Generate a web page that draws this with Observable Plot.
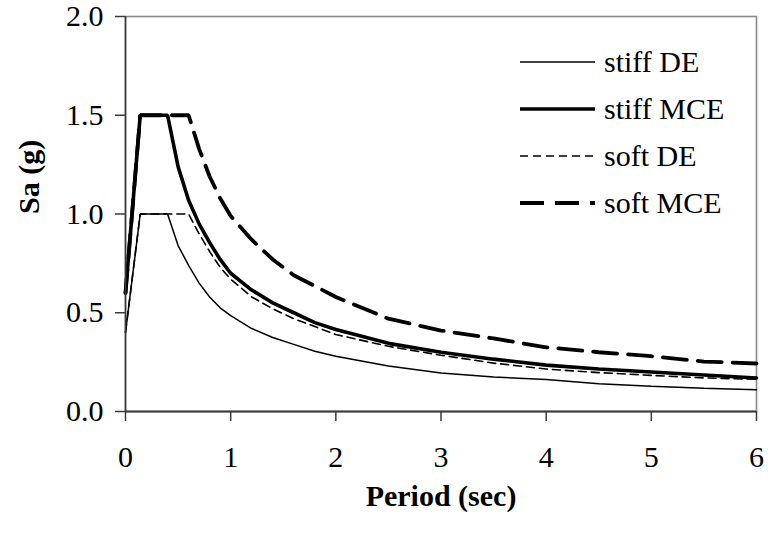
<!DOCTYPE html>
<html>
<head>
<meta charset="utf-8">
<script src="https://cdn.jsdelivr.net/npm/d3@7"></script>
<script src="https://cdn.jsdelivr.net/npm/@observablehq/plot@0.6"></script>
<style>
  html, body { margin: 0; padding: 0; background: #fff; }
  #wrap { position: relative; width: 768px; height: 538px; }
</style>
</head>
<body>
<div id="wrap"></div>
<script>
// ---- data ----
const periodStiff = [0, 0.14, 0.4, 0.5, 0.6, 0.7, 0.8, 0.9, 1.0, 1.2, 1.4, 1.6, 1.8, 2.0, 2.5, 3.0, 3.5, 4.0, 4.5, 5.0, 5.5, 6.0];
const stiffDE  = [0.40, 1.00, 1.00, 0.84, 0.74, 0.65, 0.58, 0.525, 0.485, 0.42, 0.375, 0.34, 0.305, 0.28, 0.23, 0.195, 0.175, 0.162, 0.14, 0.128, 0.118, 0.11];
const stiffMCE = [0.60, 1.50, 1.50, 1.24, 1.07, 0.95, 0.855, 0.77, 0.70, 0.615, 0.55, 0.50, 0.45, 0.415, 0.345, 0.30, 0.265, 0.235, 0.215, 0.20, 0.185, 0.17];
const periodSoft = [0, 0.14, 0.6, 0.7, 0.8, 0.9, 1.0, 1.2, 1.4, 1.6, 1.8, 2.0, 2.5, 3.0, 3.5, 4.0, 4.5, 5.0, 5.5, 6.0];
const softDE  = [0.40, 1.00, 1.00, 0.90, 0.81, 0.73, 0.67, 0.58, 0.52, 0.47, 0.43, 0.39, 0.33, 0.285, 0.245, 0.215, 0.197, 0.183, 0.17, 0.163];
const softMCE = [0.60, 1.50, 1.50, 1.33, 1.19, 1.08, 0.99, 0.87, 0.77, 0.69, 0.635, 0.58, 0.47, 0.41, 0.37, 0.325, 0.30, 0.28, 0.253, 0.243];

const seriesNames = ["stiff DE", "stiff MCE", "soft DE", "soft MCE"];
const xTicks = [0, 1, 2, 3, 4, 5, 6];
const yTicks = [0, 0.5, 1.0, 1.5, 2.0];
const xTitle = "Period (sec)";
const yTitle = "Sa (g)";

// ---- styles ----
const styles = {
  "stiff DE":  {strokeWidth: 1.5, dash: null},
  "stiff MCE": {strokeWidth: 3.6, dash: null},
  "soft DE":   {strokeWidth: 1.6, dash: "8,5"},
  "soft MCE":  {strokeWidth: 3.8, dash: "24,11"}
};

const seriesData = {
  "stiff DE":  periodStiff.map((t, i) => ({T: t, Sa: stiffDE[i]})),
  "stiff MCE": periodStiff.map((t, i) => ({T: t, Sa: stiffMCE[i]})),
  "soft DE":   periodSoft.map((t, i) => ({T: t, Sa: softDE[i]})),
  "soft MCE":  periodSoft.map((t, i) => ({T: t, Sa: softMCE[i]}))
};

const font = "'Liberation Serif', 'Times New Roman', serif";
const axisColor = "#3a3a3a";

const chart = Plot.plot({
  width: 768,
  height: 538,
  marginLeft: 125,
  marginRight: 12,
  marginTop: 16,
  marginBottom: 127,
  style: {fontFamily: font, fontSize: "30px", color: "#000", background: "#fff"},
  x: {domain: [0, 6]},
  y: {domain: [0, 2]},
  marks: [
    Plot.frame({stroke: "#8a8a8a", strokeWidth: 1.6}),
    ...seriesNames.map(name => Plot.line(seriesData[name], {
      x: "T", y: "Sa", stroke: "#000",
      strokeWidth: styles[name].strokeWidth,
      strokeDasharray: styles[name].dash,
      strokeLinejoin: "miter"
    })),
    Plot.ruleY([0], {stroke: axisColor, strokeWidth: 2}),
    Plot.ruleX([0], {stroke: axisColor, strokeWidth: 1.6}),
    Plot.axisX({ticks: xTicks, tickFormat: d => String(d), tickSize: 10, tickPadding: 24,
      stroke: axisColor, strokeWidth: 1.5, fill: "#000", fontSize: 30, label: null}),
    Plot.axisY({ticks: yTicks, tickFormat: d => d.toFixed(1), tickSize: 10, tickPadding: 12,
      stroke: axisColor, strokeWidth: 1.5, fill: "#000", fontSize: 30, label: null}),
    Plot.text([xTitle], {text: d => d, frameAnchor: "bottom", dy: 94,
      fontWeight: "bold", fontSize: 30, fill: "#000"}),
    Plot.text([yTitle], {text: d => d, frameAnchor: "left", dx: -96, rotate: -90,
      fontWeight: "bold", fontSize: 30, fill: "#000"})
  ]
});

const wrap = document.getElementById("wrap");
wrap.appendChild(chart);

// ---- legend (inside plot area, top right) ----
const legend = d3.select(wrap).append("svg")
  .attr("width", 768).attr("height", 538)
  .style("position", "absolute").style("left", "0px").style("top", "0px")
  .style("pointer-events", "none");

const legX0 = 520, legX1 = 595, legTextX = 604, legY0 = 62, legRow = 47;
const rows = legend.selectAll("g").data(seriesNames).join("g")
  .attr("transform", (d, i) => `translate(0,${legY0 + i * legRow})`);
rows.append("line")
  .attr("x1", legX0).attr("x2", legX1).attr("y1", 0).attr("y2", 0)
  .attr("stroke", "#000")
  .attr("stroke-width", d => styles[d].strokeWidth)
  .attr("stroke-dasharray", d => styles[d].dash);
rows.append("text")
  .attr("x", legTextX).attr("y", 0).attr("dy", "0.33em")
  .attr("font-family", font).attr("font-size", 30).attr("fill", "#000")
  .text(d => d);
</script>
</body>
</html>
